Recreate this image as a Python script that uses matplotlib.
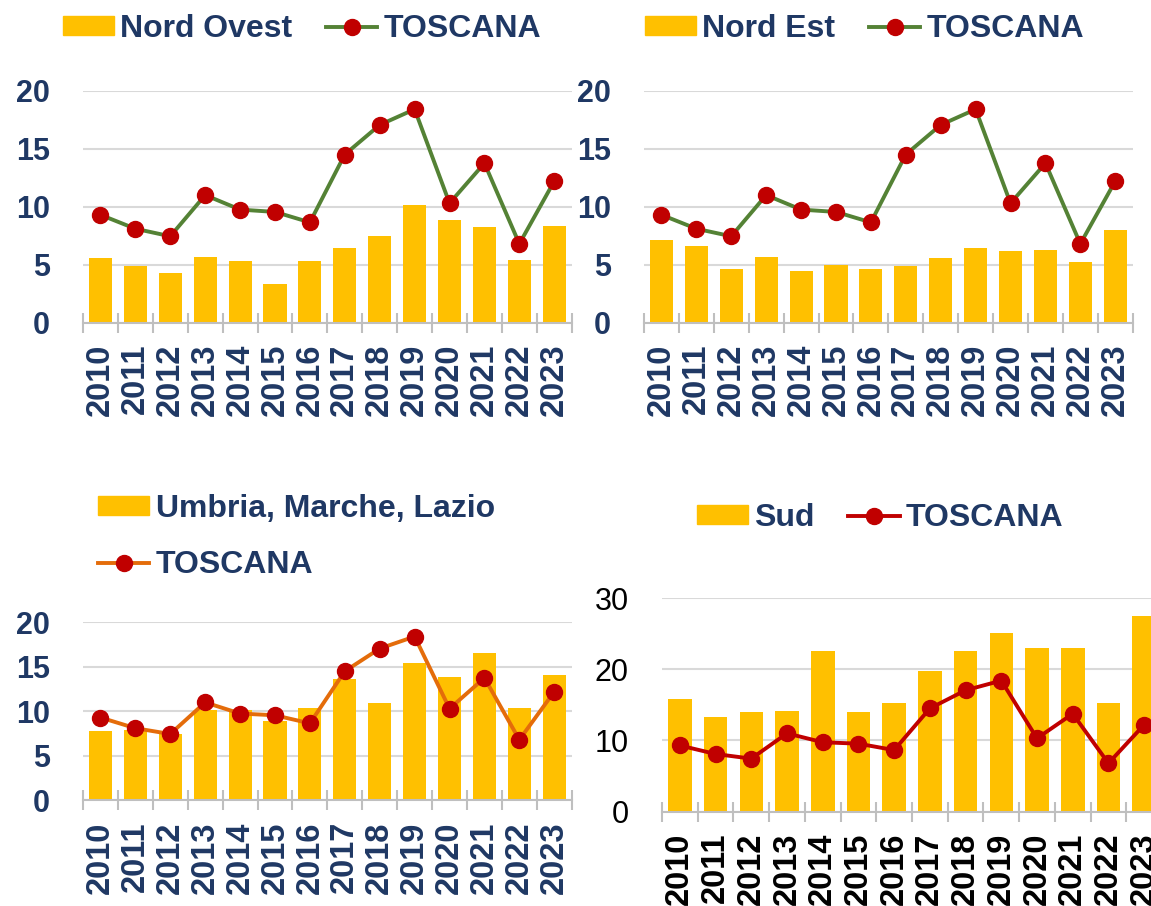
import numpy as np
import matplotlib
matplotlib.use("Agg")
import matplotlib.pyplot as plt
from matplotlib.patches import Patch
from matplotlib.lines import Line2D

anni = ["2010", "2011", "2012", "2013", "2014", "2015", "2016",
        "2017", "2018", "2019", "2020", "2021", "2022", "2023"]

toscana = [9.3, 8.1, 7.45, 11.0, 9.75, 9.55, 8.65, 14.5, 17.05, 18.4, 10.3, 13.75, 6.8, 12.2]

nord_ovest = [5.6, 4.9, 4.25, 5.65, 5.3, 3.3, 5.3, 6.45, 7.45, 10.15, 8.85, 8.25, 5.4, 8.3]
nord_est = [7.1, 6.6, 4.6, 5.65, 4.5, 4.95, 4.6, 4.9, 5.6, 6.4, 6.15, 6.25, 5.2, 8.0]
centro = [7.75, 7.9, 7.45, 10.2, 10.15, 8.95, 10.35, 13.65, 10.9, 15.4, 13.9, 16.5, 10.4, 14.1]
sud = [15.8, 13.3, 14.0, 14.2, 22.5, 14.0, 15.3, 19.7, 22.5, 25.1, 23.0, 23.0, 15.3, 27.5]

W, H = 1151, 906
GIALLO = "#FFC000"
ROSSO = "#C00000"
VERDE = "#548235"
ARANCIO = "#E46C0A"
BLU = "#1F3864"
GRIGIO = "#BFBFBF"
FONT = "Liberation Sans"


def px(x0, x1, y0, y1):
    # rettangolo in pixel -> coordinate figura
    return [x0 / W, 1 - y1 / H, (x1 - x0) / W, (y1 - y0) / H]


def pannello(fig, rect, barre, nome, col_linea, ymax, colore_y, bold_y,
             leg_pos, leg_ncol=2):
    ax = fig.add_axes(rect)
    x = np.arange(len(anni))
    ax.bar(x, barre, width=0.66, color=GIALLO, zorder=2)
    ax.plot(x, toscana, color=col_linea, lw=2.8, marker="o", ms=11.5,
            mfc=ROSSO, mec=ROSSO, zorder=3)
    ax.set_xlim(-0.5, len(anni) - 0.5)
    ax.set_ylim(0, ymax)
    ax.set_yticks(np.arange(0, ymax + 1, 5 if ymax == 20 else 10))
    ax.yaxis.grid(True, color="#D9D9D9", lw=1.5, zorder=0)
    for s in ["left", "right", "top"]:
        ax.spines[s].set_visible(False)
    ax.spines["bottom"].set_color(GRIGIO)
    ax.spines["bottom"].set_linewidth(1.5)
    ax.spines["bottom"].set_zorder(4)

    ax.set_xticks(x)
    ax.set_xticklabels(anni, rotation=90, fontsize=23.5, fontweight="bold",
                       family=FONT,
                       color=BLU if colore_y == BLU else "black")
    ax.tick_params(axis="x", which="major", length=0, pad=15)
    ax.set_xticks(np.arange(-0.5, len(anni)), minor=True)
    ax.tick_params(axis="x", which="minor", direction="inout", length=15,
                   width=1.5, color=GRIGIO)
    ax.tick_params(axis="y", length=0, pad=24)
    for t in ax.get_yticklabels():
        t.set_fontsize(22)
        t.set_family(FONT)
        t.set_fontweight("bold" if bold_y else "normal")
        t.set_color(colore_y)

    maniglie = [Patch(color=GIALLO),
                Line2D([], [], color=col_linea, lw=2.8, marker="o", ms=11.5,
                       mfc=ROSSO, mec=ROSSO)]
    leg = ax.legend(maniglie, [nome, "TOSCANA"], ncol=leg_ncol,
                    loc="center left",
                    bbox_to_anchor=(leg_pos[0] / W, 1 - leg_pos[1] / H),
                    bbox_transform=fig.transFigure, frameon=False,
                    borderpad=0, borderaxespad=0, handlelength=1.6,
                    handleheight=0.55, handletextpad=0.2, columnspacing=1.05,
                    labelspacing=0.82,
                    prop={"family": FONT, "weight": "bold", "size": 23})
    for t in leg.get_texts():
        t.set_color(BLU)
    return ax


fig = plt.figure(figsize=(W / 100, H / 100), dpi=100)

pannello(fig, px(83, 571.7, 90.7, 322.7), nord_ovest, "Nord Ovest", VERDE,
         20, BLU, True, (63, 29))
pannello(fig, px(644, 1132.7, 90.7, 322.7), nord_est, "Nord Est", VERDE,
         20, BLU, True, (645, 29))
pannello(fig, px(83, 571.7, 622.3, 800.3), centro, "Umbria, Marche, Lazio",
         ARANCIO, 20, BLU, True, (98, 537), leg_ncol=1)
pannello(fig, px(662, 1162, 598, 811.7), sud, "Sud", ROSSO,
         30, "black", False, (697, 518))

fig.savefig("out.png", dpi=100)
